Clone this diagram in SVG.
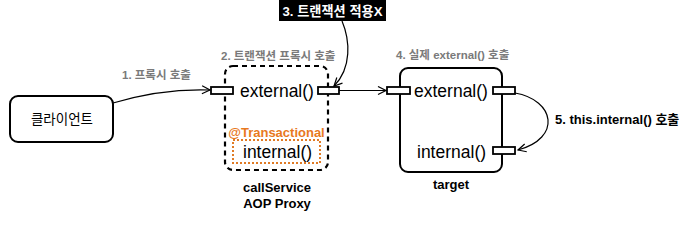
<svg xmlns="http://www.w3.org/2000/svg" width="693" height="225" viewBox="0 0 693 225">
<defs>
<style>
.t{font-family:"Liberation Sans","Noto Sans CJK KR",sans-serif;}
.b{font-weight:bold;}
.g{fill:#7a7a7a;font-size:11.5px;font-weight:bold;}
.box{fill:#fff;stroke:#000;stroke-width:2;}
.port{fill:#fff;stroke:#000;stroke-width:1.8;}
.conn{fill:none;stroke:#000;stroke-width:1.2;}
.m{font-size:17.5px;}
</style>
<marker id="arr" markerUnits="userSpaceOnUse" markerWidth="12" markerHeight="12" refX="9" refY="5" orient="auto">
<path d="M1,1 L9,5 L1,9" fill="none" stroke="#000" stroke-width="1.2"/>
</marker>
</defs>
<rect width="693" height="225" fill="#fff"/>

<g id="client">
<rect class="box" x="10" y="96" width="103" height="46" rx="8"/>
<text class="t" x="62" y="123.5" font-size="13.5" text-anchor="middle">클라이언트</text>
</g>

<g id="proxy">
<rect x="225" y="66" width="103" height="104" rx="8" fill="none" stroke="#000" stroke-width="2.2" stroke-dasharray="5,4"/>
<rect class="port" x="211" y="87" width="22" height="7"/>
<rect class="port" x="318" y="87" width="21" height="7"/>
<text class="t m" x="240" y="97">external()</text>
<text class="t b" x="276.5" y="136.5" font-size="13" fill="#E8791E" text-anchor="middle">@Transactional</text>
<rect x="233" y="140" width="87" height="23" fill="none" stroke="#E07B25" stroke-width="2" stroke-dasharray="2,2"/>
<text class="t m" x="243" y="158">internal()</text>
<text class="t b" x="277" y="192" font-size="13" text-anchor="middle">callService</text>
<text class="t b" x="277" y="208" font-size="13" text-anchor="middle">AOP Proxy</text>
</g>

<g id="target">
<rect class="box" x="400" y="68" width="102" height="104" rx="8"/>
<rect class="port" x="387" y="87" width="23" height="7"/>
<rect class="port" x="493" y="87" width="22" height="7"/>
<rect class="port" x="493" y="147" width="22" height="7"/>
<text class="t m" x="414" y="97">external()</text>
<text class="t m" x="417" y="158">internal()</text>
<text class="t b" x="451" y="189" font-size="13" text-anchor="middle">target</text>
</g>

<g id="note3">
<rect x="279" y="0" width="107" height="21" fill="#000"/>
<text class="t b" x="332.5" y="16" font-size="13.2" fill="#fff" text-anchor="middle">3. 트랜잭션 적용X</text>
</g>

<g id="connectors">
<path class="conn" d="M113,103 C150,92 180,89 210,90" marker-end="url(#arr)"/>
<path class="conn" d="M339,90.5 L386,90.5" marker-end="url(#arr)"/>
<path class="conn" d="M342,21 C350,40 352,68 334,86" marker-end="url(#arr)"/>
<path class="conn" d="M515,93 C555,100 562,138 518,150" marker-end="url(#arr)"/>
<text class="t g" x="122" y="79">1. 프록시 호출</text>
<text class="t g" x="221" y="60">2. 트랜잭션 프록시 호출</text>
<text class="t g" x="396" y="59">4. 실제 external() 호출</text>
<text class="t b" x="555" y="124" font-size="13">5. this.internal() 호출</text>
</g>
</svg>
